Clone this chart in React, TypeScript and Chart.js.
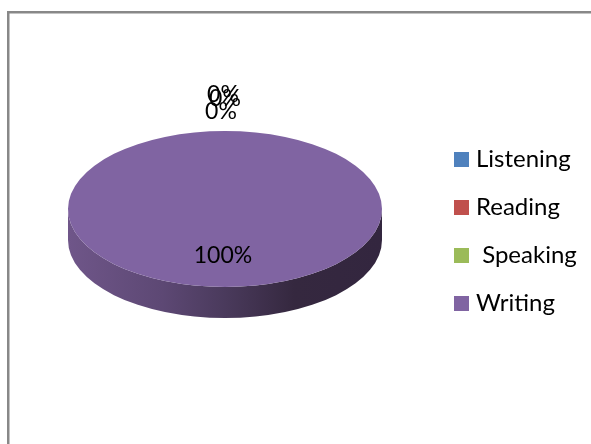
import React, { useEffect, useRef } from "react";
import { Chart, registerables } from "chart.js";

Chart.register(...registerables);

const categories = ["Listening", "Reading", " Speaking", "Writing"];
const shares = [0, 0, 0, 100];
const sliceColors = ["#4f81bd", "#c0504d", "#9bbb59", "#8064a2"];

const FONT = "Lato, Carlito, sans-serif";
const TILT = 78 / 157;
const DEPTH = 31;
// outside-label nudges for the overlapping zero slices, in px
const zeroLabelOffsets = [
  { dx: -2, dy: -114 },
  { dx: 0, dy: -110 },
  { dx: -4, dy: -97 },
];

const pie3d = {
  id: "pie3d",
  beforeDraw(chart: any) {
    const { ctx, width, height } = chart;
    ctx.save();
    ctx.fillStyle = "#ffffff";
    ctx.fillRect(0, 0, width, height);
    ctx.fillStyle = "#888888";
    ctx.fillRect(7, 11, width - 7, 2.5);
    ctx.fillRect(7, 11, 2.5, height - 11);
    ctx.restore();
  },
  beforeDatasetsDraw(chart: any) {
    const arc = chart.getDatasetMeta(0).data[3];
    const { x, y, outerRadius: r } = arc;
    const ry = r * TILT;
    const { ctx } = chart;
    ctx.save();
    const g = ctx.createLinearGradient(x - r, 0, x + r, 0);
    g.addColorStop(0, "#6f5689");
    g.addColorStop(0.3, "#5d4874");
    g.addColorStop(0.5, "#4a3a5c");
    g.addColorStop(0.72, "#35283f");
    g.addColorStop(1, "#33263f");
    ctx.fillStyle = g;
    ctx.beginPath();
    ctx.ellipse(x, y, r, ry, 0, Math.PI, 0, true);
    ctx.lineTo(x + r, y + DEPTH);
    ctx.ellipse(x, y + DEPTH, r, ry, 0, 0, Math.PI, false);
    ctx.closePath();
    ctx.fill();
    ctx.restore();
    ctx.save();
    ctx.translate(0, y);
    ctx.scale(1, TILT);
    ctx.translate(0, -y);
  },
  afterDatasetsDraw(chart: any) {
    chart.ctx.restore();
  },
  afterDraw(chart: any) {
    const { ctx } = chart;
    const meta = chart.getDatasetMeta(0);
    const labels: string[] = chart.data.labels;
    const values: number[] = chart.data.datasets[0].data;
    const colors: string[] = chart.data.datasets[0].backgroundColor;
    const total = values.reduce((a, b) => a + b, 0);
    ctx.save();
    ctx.fillStyle = "#000000";
    ctx.textBaseline = "middle";
    ctx.textAlign = "center";
    ctx.font = `23px ${FONT}`;
    values.forEach((v, i) => {
      const a = meta.data[i];
      const text = `${Math.round((v / total) * 100)}%`;
      if (v === 0) {
        const o = zeroLabelOffsets[i];
        ctx.fillText(text, a.x + o.dx, a.y + o.dy);
      } else {
        const mid = (a.startAngle + a.endAngle) / 2;
        const rr = a.outerRadius * 0.6;
        ctx.fillText(text, a.x + Math.cos(mid) * rr - 2, a.y + Math.sin(mid) * rr * TILT);
      }
    });
    ctx.textAlign = "left";
    ctx.font = `24px ${FONT}`;
    labels.forEach((label, i) => {
      const rowY = 159.5 + i * 48;
      ctx.fillStyle = colors[i];
      ctx.fillRect(454, rowY - 7.5, 15, 15);
      ctx.fillStyle = "#000000";
      ctx.fillText(label, 476, rowY);
    });
    ctx.restore();
  },
};

export default function App() {
  const ref = useRef<HTMLCanvasElement>(null);
  useEffect(() => {
    const chart = new Chart(ref.current!, {
      type: "pie",
      data: {
        labels: categories,
        datasets: [{ data: shares, backgroundColor: sliceColors, borderWidth: 0 }],
      },
      options: {
        animation: false,
        responsive: false,
        layout: { padding: { left: 68, right: 209, top: 52, bottom: 78 } },
        plugins: { legend: { display: false }, tooltip: { enabled: false } },
      },
      plugins: [pie3d],
    } as any);
    return () => chart.destroy();
  }, []);
  return (
    <canvas
      ref={ref}
      width={591}
      height={444}
      style={{ position: "fixed", left: 0, top: 0, width: 591, height: 444 }}
    />
  );
}
